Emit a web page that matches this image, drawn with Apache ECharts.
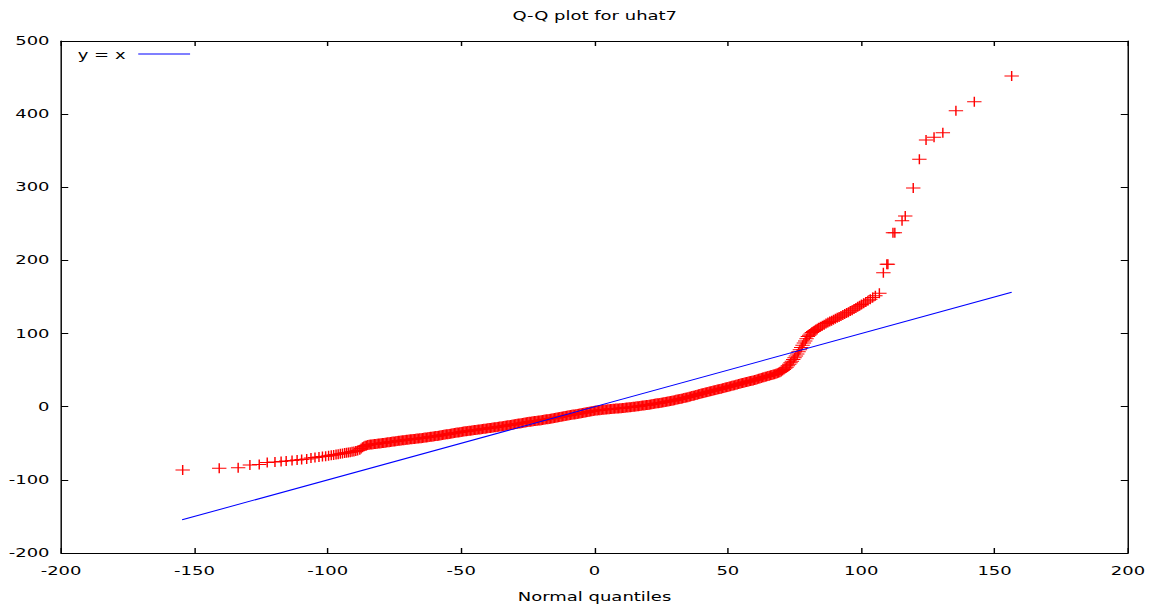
<!DOCTYPE html>
<html><head><meta charset="utf-8">
<script src="https://cdn.jsdelivr.net/npm/echarts@6/dist/echarts.min.js"></script>
<style>
html,body{margin:0;padding:0;background:#fff;overflow:hidden;width:1152px;height:605px}
#chart{width:800px;height:605px;transform:scaleX(1.44);transform-origin:0 0}
</style>
</head><body><div id="chart"></div>
<script>
const titleText = 'Q-Q plot for uhat7';
const xAxisName = 'Normal quantiles';
const legendLabel = 'y = x';

const quantiles = [
-154.4,-140.7,-133.6,-129.2,-125.7,-122.7,-119.8,-117.5,-115.6,-113.4,
-111.5,-109.8,-107.9,-106.3,-104.8,-103.3,-102.0,-100.8,-99.7,-98.7,
-97.8,-96.9,-96.1,-95.3,-94.5,-93.7,-93.0,-92.3,-91.6,-90.9,
-90.2,-89.5,-88.8,
-88,-87.5,-87,-86.5,-86,-85.5,-85,-84.5,-84,
-83.5,-83,-82.5,-82,-81.5,-81,-80.5,-80,
-79.5,-79,-78.5,-78,-77.5,-77,-76.5,-76,-75.5,-75,
-74.5,-74,-73.5,-73,-72.5,-72,-71.5,-71,-70.5,-70,
-69.5,-69,-68.5,-68,-67.5,-67,-66.5,-66,-65.5,-65,
-64.5,-64,-63.5,-63,-62.5,-62,-61.5,-61,-60.5,-60,
-59.5,-59,-58.5,-58,-57.5,-57,-56.5,-56,-55.5,-55,
-54.5,-54,-53.5,-53,-52.5,-52,-51.5,-51,-50.5,-50,
-49.5,-49,-48.5,-48,-47.5,-47,-46.5,-46,-45.5,-45,
-44.5,-44,-43.5,-43,-42.5,-42,-41.5,-41,-40.5,-40,
-39.5,-39,-38.5,-38,-37.5,-37,-36.5,-36,-35.5,-35,
-34.5,-34,-33.5,-33,-32.5,-32,-31.5,-31,-30.5,-30,
-29.5,-29,-28.5,-28,-27.5,-27,-26.5,-26,-25.5,-25,
-24.5,-24,-23.5,-23,-22.5,-22,-21.5,-21,-20.5,-20,
-19.5,-19,-18.5,-18,-17.5,-17,-16.5,-16,-15.5,-15,
-14.5,-14,-13.5,-13,-12.5,-12,-11.5,-11,-10.5,-10,
-9.5,-9,-8.5,-8,-7.5,-7,-6.5,-6,-5.5,-5,
-4.5,-4,-3.5,-3,-2.5,-2,-1.5,-1,-0.5,0,
0.5,1,1.5,2,2.5,3,3.5,4,4.5,5,
5.5,6,6.5,7,7.5,8,8.5,9,9.5,10,
10.5,11,11.5,12,12.5,13,13.5,14,14.5,15,
15.5,16,16.5,17,17.5,18,18.5,19,19.5,20,
20.5,21,21.5,22,22.5,23,23.5,24,24.5,25,
25.5,26,26.5,27,27.5,28,28.5,29,29.5,30,
30.5,31,31.5,32,32.5,33,33.5,34,34.5,35,
35.5,36,36.5,37,37.5,38,38.5,39,39.5,40,
40.5,41,41.5,42,42.5,43,43.5,44,44.5,45,
45.5,46,46.5,47,47.5,48,48.5,49,49.5,50,
50.5,51,51.5,52,52.5,53,53.5,54,54.5,55,
55.5,56,56.5,57,57.5,58,58.5,59,59.5,60,
60.5,61,61.5,62,62.5,63,63.5,64,64.5,65,
65.5,66,66.5,67,67.5,68,
68.5,69,69.5,70,
70.5,71,71.5,72,
72.5,73,73.5,74,
74.5,75,75.5,76,
76.5,77,77.5,78,
78.5,79,79.5,80,
80.5,81,81.5,82,
82.5,83,83.5,84,
84.7,85.4,86.1,86.8,87.5,88.2,88.9,89.6,90.3,91.0,
91.7,92.4,93.1,93.8,94.5,95.2,95.9,96.6,97.3,98.0,
98.7,99.4,100.1,100.9,101.7,102.5,103.4,104.3,105.3,106.8,
108.3,109.6,110.0,111.9,112.6,115.3,116.5,119.5,121.8,124.3,
127.3,130.6,135.5,142.4,156.4
];

const residuals = [
-86.5,-84.2,-83.4,-79.7,-79.0,-76.3,-75.6,-74.9,-74.2,-73.6,
-72.9,-72.2,-71.5,-70.1,-69.5,-68.8,-68.2,-67.6,-67.0,-66.4,
-65.9,-65.4,-64.9,-64.4,-63.9,-63.4,-62.9,-62.5,-62.1,-61.7,
-61.2,-60.7,-60.0,
-59,-57.2,-55.5,-54.4,-53.5,-53,-52.5,-52.1,-51.8,
-51.6,-51.3,-51.1,-50.9,-50.7,-50.4,-50.2,-50,
-49.7,-49.5,-49.2,-49,-48.7,-48.5,-48.2,-48,-47.7,-47.5,
-47.2,-47,-46.7,-46.5,-46.2,-46,-45.7,-45.5,-45.2,-45,
-44.8,-44.6,-44.4,-44.2,-44,-43.8,-43.6,-43.4,-43.2,-43,
-42.7,-42.5,-42.2,-42,-41.7,-41.5,-41.2,-41,-40.7,-40.5,
-40.2,-39.9,-39.6,-39.3,-39,-38.7,-38.4,-38.1,-37.8,-37.5,
-37.2,-36.9,-36.6,-36.3,-36,-35.7,-35.4,-35.1,-34.8,-34.5,
-34.2,-34,-33.7,-33.5,-33.2,-33,-32.7,-32.5,-32.2,-32,
-31.7,-31.5,-31.2,-31,-30.7,-30.5,-30.2,-30,-29.7,-29.5,
-29.2,-29,-28.7,-28.5,-28.2,-28,-27.7,-27.5,-27.2,-27,
-26.7,-26.4,-26.1,-25.8,-25.5,-25.2,-24.9,-24.6,-24.3,-24,
-23.7,-23.4,-23.1,-22.8,-22.5,-22.2,-21.9,-21.6,-21.3,-21,
-20.7,-20.5,-20.2,-20,-19.7,-19.5,-19.2,-19,-18.7,-18.5,
-18.2,-17.9,-17.6,-17.3,-17,-16.7,-16.4,-16.1,-15.8,-15.5,
-15.1,-14.8,-14.4,-14.1,-13.7,-13.4,-13,-12.7,-12.3,-12,
-11.7,-11.4,-11.1,-10.8,-10.5,-10.2,-9.9,-9.6,-9.3,-9,
-8.6,-8.3,-7.9,-7.6,-7.2,-6.9,-6.5,-6.2,-5.8,-5.5,
-5.3,-5.1,-4.9,-4.7,-4.5,-4.3,-4.1,-3.9,-3.7,-3.5,
-3.4,-3.2,-3.1,-2.9,-2.8,-2.6,-2.5,-2.3,-2.2,-2,
-1.8,-1.6,-1.4,-1.2,-1,-0.8,-0.6,-0.4,-0.2,0,
0.2,0.5,0.7,1,1.2,1.5,1.7,2,2.2,2.5,
2.8,3.1,3.4,3.7,4,4.3,4.6,4.9,5.2,5.5,
5.8,6.2,6.5,6.9,7.2,7.6,7.9,8.3,8.6,9,
9.4,9.8,10.2,10.6,11,11.4,11.8,12.2,12.6,13,
13.5,14,14.5,15,15.5,16,16.5,17,17.5,18,
18.4,18.9,19.3,19.8,20.2,20.7,21.1,21.6,22,22.5,
22.9,23.4,23.8,24.3,24.7,25.2,25.6,26.1,26.5,27,
27.5,28,28.5,29,29.5,30,30.5,31,31.5,32,
32.4,32.9,33.3,33.8,34.2,34.7,35.1,35.6,36,36.5,
37,37.6,38.1,38.7,39.2,39.8,40.3,40.9,41.4,42,
42.5,43,43.5,44,44.5,45,
45.7,46.5,47.2,48,
49.5,51,52.5,54,
56,58,60,62,
64.5,67,69.5,72,
75,78,81,84,
87,90,93,96,
97.8,99.5,101.3,103,
104.2,105.5,106.7,108,
109.3,110.7,112,113.6,115,116.4,117.7,119,120.3,121.5,
122.8,124.1,125.4,126.7,128,129.3,130.7,132,133.5,135,
136.6,138.2,139.7,141.5,143.2,145,147,149.2,151.8,155,
183.2,194.7,194.7,238,238,254.3,260.7,299,338.3,364.7,
368.3,374.6,404.6,417,452
];

const refLineX = [-154.6, 156.4];
const xTicks = {min: -200, max: 200, interval: 50};
const yTicks = {min: -200, max: 500, interval: 100};

const points = quantiles.map((x, i) => [x, residuals[i]]);
const refLine = refLineX.map(x => [x, x]);

const font = 'DejaVu Sans';
const ink = '#000000';
const blue = '#0000ff';
const chart = echarts.init(document.getElementById('chart'), null, {renderer: 'svg'});

function axisBase(extra) {
  return Object.assign({
    type: 'value',
    axisLine: {show: true, onZero: false, lineStyle: {color: ink, width: 1}},
    axisTick: {show: true, inside: true, length: 5, lineStyle: {color: ink, width: 1}},
    splitLine: {show: false},
    axisLabel: {color: ink, fontFamily: font, fontSize: 12.5}
  }, extra);
}

chart.setOption({
  animation: false,
  backgroundColor: '#ffffff',
  title: {
    text: titleText, left: 413, top: 9, textAlign: 'center', padding: 0,
    textStyle: {color: ink, fontFamily: font, fontSize: 12.5, fontWeight: 'normal'}
  },
  graphic: [
    {
      type: 'text', left: 54, top: 48, silent: true,
      style: {text: legendLabel, fill: ink, font: '12.5px "DejaVu Sans"'}
    },
    {
      type: 'line', silent: true,
      shape: {x1: 96, y1: 54, x2: 132, y2: 54},
      style: {stroke: blue, lineWidth: 1}
    }
  ],
  grid: {left: 42.4, right: 16.7, top: 41, bottom: 52, outerBoundsMode: 'none', containLabel: false},
  xAxis: [
    axisBase({min: xTicks.min, max: xTicks.max, interval: xTicks.interval, position: 'bottom',
      name: xAxisName, nameLocation: 'middle', nameGap: 37,
      nameTextStyle: {color: ink, fontFamily: font, fontSize: 12.5},
      axisLabel: {color: ink, fontFamily: font, fontSize: 12.5, margin: 11}}),
    axisBase({min: xTicks.min, max: xTicks.max, interval: xTicks.interval, position: 'top',
      axisLabel: {show: false}})
  ],
  yAxis: [
    axisBase({min: yTicks.min, max: yTicks.max, interval: yTicks.interval, position: 'left',
      axisLabel: {color: ink, fontFamily: font, fontSize: 12.5, margin: 8}}),
    axisBase({min: yTicks.min, max: yTicks.max, interval: yTicks.interval, position: 'right',
      axisLabel: {show: false}})
  ],
  series: [
    {
      type: 'scatter', name: 'uhat7', xAxisIndex: 0, yAxisIndex: 0,
      data: points, silent: true, z: 2,
      symbol: 'path://M0,4.5h10v1h-10zM4.5,0h1v10h-1z',
      symbolSize: [10, 10],
      itemStyle: {color: '#ff0000', opacity: 1}
    },
    {
      type: 'line', name: legendLabel, xAxisIndex: 0, yAxisIndex: 0,
      data: refLine, symbol: 'none', silent: true, z: 3,
      lineStyle: {color: blue, width: 1},
      itemStyle: {color: blue}
    }
  ]
});
</script>
</body></html>
